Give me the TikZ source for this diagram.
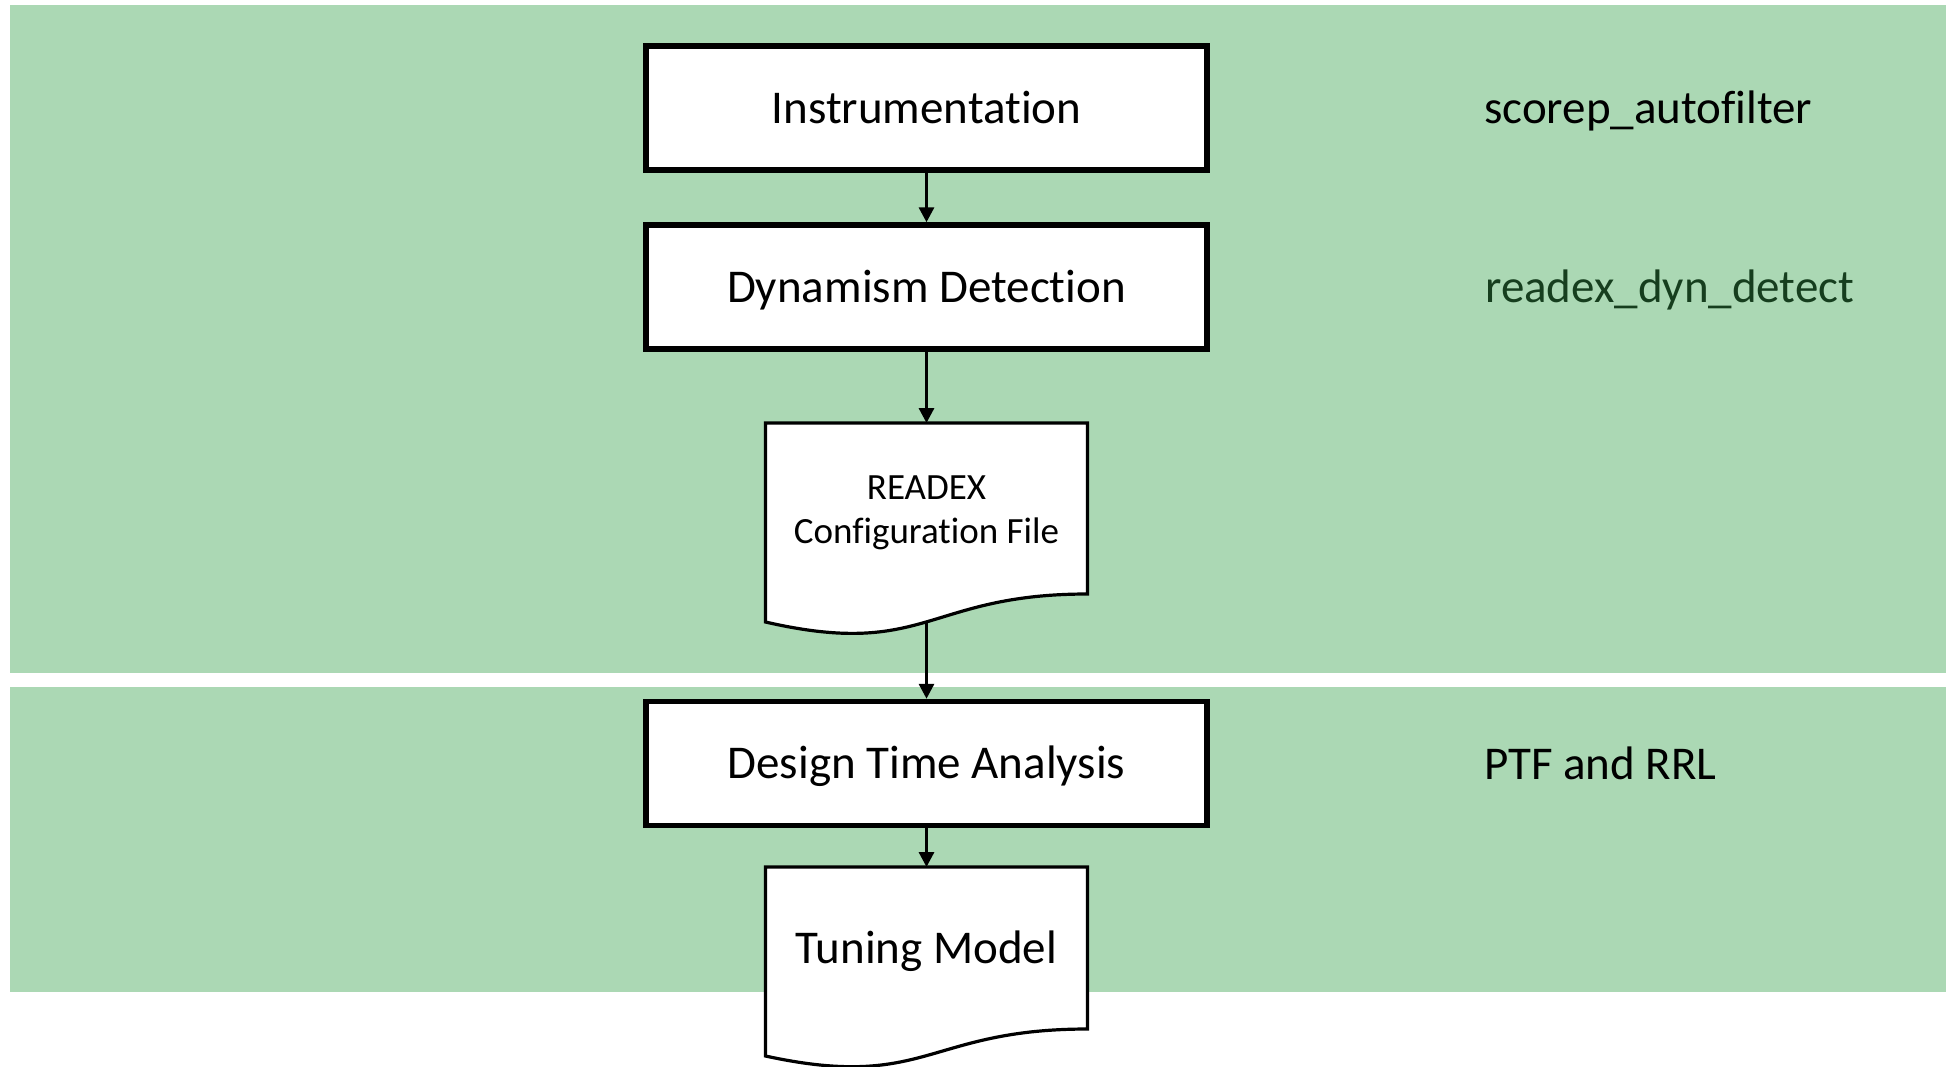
\documentclass[tikz,border=0pt]{standalone}
\usepackage{fontspec}
\setmainfont{Carlito}[Ligatures={NoCommon}]
\usetikzlibrary{arrows.meta,calc}
\definecolor{bandgreen}{RGB}{171,216,180}
\definecolor{toolgreen}{RGB}{22,62,30}
\pgfdeclarelayer{bands}
\pgfdeclarelayer{docs}
\pgfsetlayers{bands,docs,main}
\begin{document}
\begin{tikzpicture}[x=1pt,y=-1pt,
  big/.style={font=\fontsize{47pt}{56pt}\selectfont},
  stepbox/.style={draw=black, line width=5.5pt, fill=white,
    minimum width=561pt, minimum height=124pt, inner sep=0pt, big,
    text height=30pt, text depth=0pt},
  docnode/.style={minimum width=322pt, inner sep=0pt, outer sep=0pt},
  docline/.style={draw=black, line width=3.2pt, fill=white, line join=miter},
  flow/.style={line width=3.2pt, -{Triangle[width=15pt,length=15pt]}},
  tool/.style={anchor=base west, inner sep=0pt, big}]

% page and its two shaded bands
\useasboundingbox (0,0) rectangle (1946,1066);
\begin{pgfonlayer}{bands}
  \fill[white] (0,0) rectangle (1946,1066);
  \fill[bandgreen] (9.5,5) rectangle (1946,673);
  \fill[bandgreen] (9.5,687) rectangle (1946,992);
\end{pgfonlayer}

% process steps
\node[stepbox] (instr) at (926.5,108) {Instrumentation};
\node[stepbox] (dyn) at (926.5,287) {Dynamism Detection};
\node[docnode, minimum height=171pt] (cfg) at (926.5,508.5) {};
\node[align=center, inner sep=0pt, font=\fontsize{37pt}{44pt}\selectfont]
      (cfgtext) at ($(cfg.center)+(0,4)$) {READEX\\Configuration File};
\node[stepbox] (dta) at (926.5,763.5) {Design Time Analysis};
\node[docnode, minimum height=162pt, big, text height=30pt, text depth=0pt]
      (tune) at (926.5,948) {Tuning Model};

% document outlines with wavy lower edge
\begin{pgfonlayer}{docs}
  \draw[docline] (cfg.north west) -- (cfg.north east) -- (cfg.south east)
    .. controls (cfg.south) and ($(cfg.south)+(0,65)$) ..
    ($(cfg.south west)+(0,28)$) -- cycle;
  \draw[docline] (tune.north west) -- (tune.north east) -- (tune.south east)
    .. controls (tune.south) and ($(tune.south)+(0,62)$) ..
    ($(tune.south west)+(0,27)$) -- cycle;
\end{pgfonlayer}
\coordinate (cfgout) at ($(cfg.south)+(0,28)$);

% tools
\node[tool] (t1) at (1484,123) {scorep\_autofilter};
\node[tool, text=toolgreen] (t2) at (1485,302) {readex\_dyn\_detect};
\node[tool] (t3) at (1484,779) {PTF and RRL};

% flow
\draw[flow] (instr.south) -- (dyn.north);
\draw[flow] (dyn.south) -- (cfg.north);
\draw[flow] (cfgout) -- (dta.north);
\draw[flow] (dta.south) -- (tune.north);
\end{tikzpicture}
\end{document}
